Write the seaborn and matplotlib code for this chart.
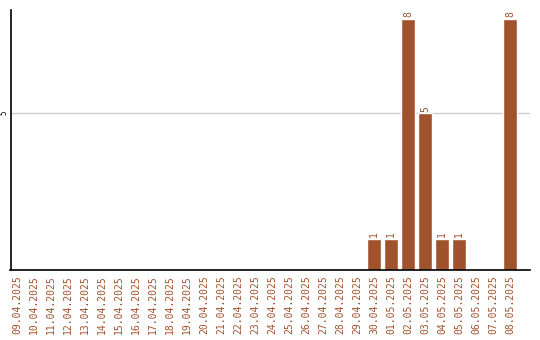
import matplotlib
matplotlib.use("Agg")
import matplotlib.pyplot as plt
import seaborn as sns
import pandas as pd

dates = ["09.04.2025", "10.04.2025", "11.04.2025", "12.04.2025", "13.04.2025",
         "14.04.2025", "15.04.2025", "16.04.2025", "17.04.2025", "18.04.2025",
         "19.04.2025", "20.04.2025", "21.04.2025", "22.04.2025", "23.04.2025",
         "24.04.2025", "25.04.2025", "26.04.2025", "27.04.2025", "28.04.2025",
         "29.04.2025", "30.04.2025", "01.05.2025", "02.05.2025", "03.05.2025",
         "04.05.2025", "05.05.2025", "06.05.2025", "07.05.2025", "08.05.2025"]
values = [0, 0, 0, 0, 0, 0, 0, 0, 0, 0,
          0, 0, 0, 0, 0, 0, 0, 0, 0, 0,
          0, 1, 1, 8, 5, 1, 1, 0, 0, 8]
ytick_values = [5]

color = "#A0522D"
sns.set_style("white")
plt.rcParams["font.family"] = ["DejaVu Sans Mono", "DejaVu Sans"]

df = pd.DataFrame({"date": dates, "value": values})

fig = plt.figure(figsize=(5.4, 3.4), dpi=100)
ax = fig.add_axes([10.5 / 540, 1 - 270 / 340, (530 - 10.5) / 540, 260 / 340])
sns.barplot(data=df, x="date", y="value", color=color, saturation=1,
            width=0.82, ax=ax)

ax.set_xlim(-0.38, 29 + 1.18)
ax.set_ylim(0, 8.28)
ax.set_yticks(ytick_values)
ax.set_yticklabels([str(v) for v in ytick_values], rotation=90,
                   fontsize=5.5, va="center", color="black")
ax.yaxis.grid(True, color="#cccccc", linewidth=1)
ax.set_axisbelow(True)
ax.tick_params(axis="y", length=0, pad=1.5)
ax.tick_params(axis="x", length=0, labelrotation=90, labelsize=7,
               labelcolor=color, pad=4)
ax.set_xlabel("")
ax.set_ylabel("")

for s in ["top", "right"]:
    ax.spines[s].set_visible(False)
for s in ["left", "bottom"]:
    ax.spines[s].set_color("black")
    ax.spines[s].set_linewidth(1.2)

labels = [str(v) if v else "" for v in values]
ax.bar_label(ax.containers[0], labels=labels, rotation=90, fontsize=7,
             color=color, padding=1)

fig.savefig("out.png", dpi=100)
